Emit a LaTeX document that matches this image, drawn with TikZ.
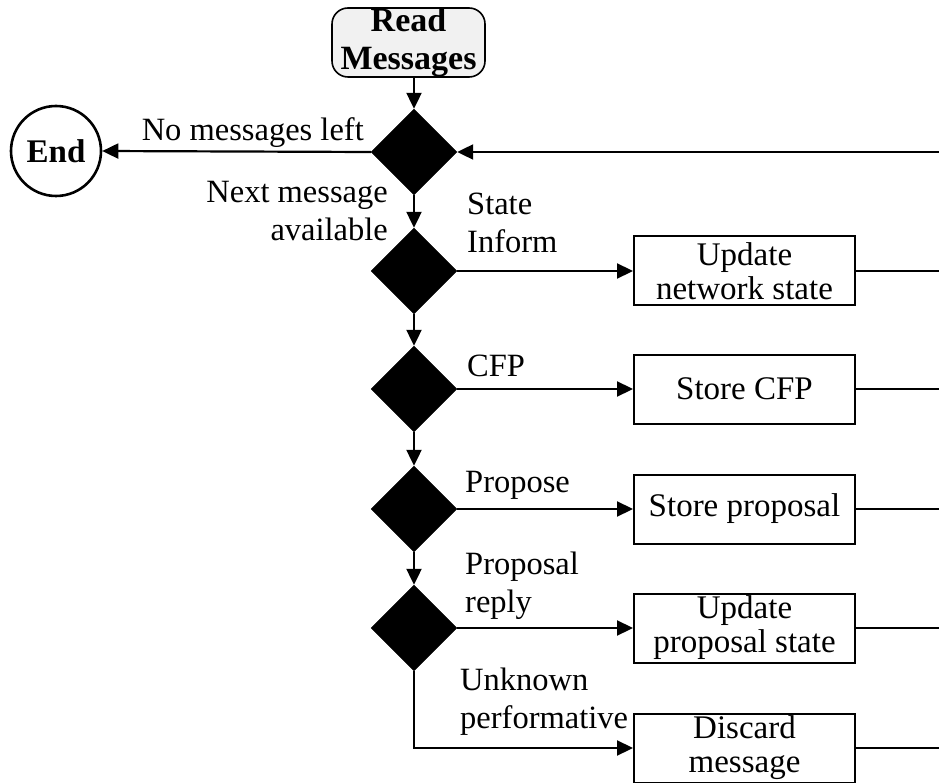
\documentclass[tikz,border=0pt]{standalone}
\usepackage{fontspec}
\setmainfont{Liberation Serif}
\usetikzlibrary{shapes.geometric,arrows.meta}

\definecolor{startfill}{HTML}{F1F1F1}

\tikzset{
  flow/.style={line width=2.2pt, -{Triangle[length=16pt,width=15pt]}},
  plain/.style={line width=2.2pt},
  decision/.style={diamond, fill=black, draw=black, aspect=1,
    minimum width=86pt, minimum height=86pt, inner sep=0pt},
  action/.style={rectangle, draw=black, line width=2pt, fill=white,
    minimum width=221pt, minimum height=69pt, inner sep=0pt,
    align=center, font=\fontsize{33}{34}\selectfont},
  startbox/.style={rectangle, rounded corners=16pt, draw=black, line width=1.6pt,
    fill=startfill, minimum width=153pt, minimum height=69pt, inner sep=0pt},
  starttext/.style={inner sep=0pt, align=center,
    font=\fontsize{34}{38}\selectfont\bfseries},
  endcircle/.style={circle, draw=black, line width=2.6pt, minimum size=90pt,
    inner sep=0pt, font=\fontsize{33}{38}\selectfont\bfseries},
  lbl/.style={inner sep=0pt, font=\fontsize{32.5}{38}\selectfont},
}

\begin{document}
\begin{tikzpicture}[x=1pt,y=-1pt]
\useasboundingbox (0,0) rectangle (939,783);

% start and end
\node[startbox] (read) at (408.5,42.5) {};
\node[starttext, anchor=base] (readtxt) at (408.5,70) {Read\\Messages};
\node[endcircle] (end) at (56,151) {End};

% decision chain
\node[decision] (d1) at (414,152) {};
\node[decision] (d2) at (414,271) {};
\node[decision] (d3) at (414,389) {};
\node[decision] (d4) at (414,509) {};
\node[decision] (d5) at (414,628) {};

% actions
\node[action] (a1) at (744.5,271) {Update\\network state};
\node[action] (a2) at (744.5,389) {Store CFP};
\node[action] (a3) at (744.5,509) {Store proposal};
\node[action] (a4) at (744.5,628) {Update\\proposal state};
\node[action] (a5) at (744.5,748) {Discard\\message};

% loop-back points at the right edge
\coordinate (r0) at (939,152);
\coordinate (r1) at (939,271);
\coordinate (r2) at (939,389);
\coordinate (r3) at (939,509);
\coordinate (r4) at (939,628);
\coordinate (r5) at (939,748);

% vertical flow
\draw[flow] (d1.north |- read.south) -- (d1.north);
\draw[flow] (d1.south) -- (d2.north);
\draw[flow] (d2.south) -- (d3.north);
\draw[flow] (d3.south) -- (d4.north);
\draw[flow] (d4.south) -- (d5.north);

% branches
\draw[flow] (d1.west) -- (end.east);
\draw[flow] (r0) -- (d1.east);
\draw[flow] (d2.east) -- (a1.west);
\draw[flow] (d3.east) -- (a2.west);
\draw[flow] (d4.east) -- (a3.west);
\draw[flow] (d5.east) -- (a4.west);
\draw[flow] (d5.south) |- (a5.west);

% returns toward the loop
\draw[plain] (a1.east) -- (r1);
\draw[plain] (a2.east) -- (r2);
\draw[plain] (a3.east) -- (r3);
\draw[plain] (a4.east) -- (r4);
\draw[plain] (a5.east) -- (r5);

% branch labels (base anchor sits on the last line)
\node[lbl, anchor=base east] (lnone) at (364,141) {No messages left};
\node[lbl, anchor=base east, align=right] (lnext) at (388,241) {Next message\\available};
\node[lbl, anchor=base west, align=left] (lstate) at (467,253) {State\\Inform};
\node[lbl, anchor=base west] (lcfp) at (467,376) {CFP};
\node[lbl, anchor=base west] (lprop) at (465,492) {Propose};
\node[lbl, anchor=base west, align=left] (lreply) at (465,612) {Proposal\\reply};
\node[lbl, anchor=base west, align=left] (lunk) at (460,728) {Unknown\\performative};
\end{tikzpicture}
\end{document}
